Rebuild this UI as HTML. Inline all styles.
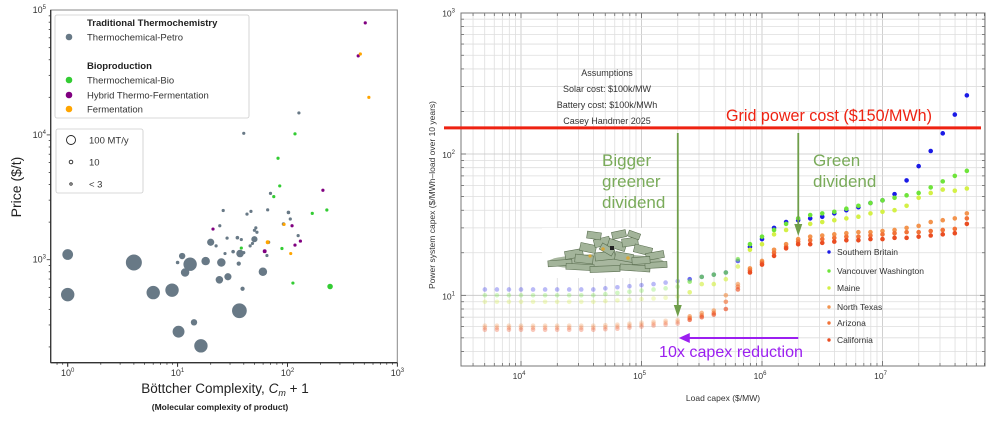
<!DOCTYPE html>
<html><head><meta charset="utf-8"><style>
html,body{margin:0;padding:0;background:#fff;width:1000px;height:421px;overflow:hidden}
svg{display:block;font-family:"Liberation Sans",sans-serif}
</style></head><body>
<svg id="root" width="1000" height="421" viewBox="0 0 1000 421">
<g id="left"></g>
<g id="right"></g>
</svg>
<script>
// ---------- LEFT CHART DATA ----------
const petroX=[1,1,4,6,8.9,10.2,11,10,11.7,13,14.1,16.3,18,20,22.4,24,24.2,26,25,28.7,28.2,27,32,35,36,37,38,40,39,36.5,40,42.8,46.5,45.7,48,50,50,51.5,52.7,59.7,66,67.4,65,70,102,92,106,125,127];
const petroY=[1100,525,950,545,570,265,1070,950,790,920,315,204,975,1380,1290,690,1870,2480,950,730,1490,1120,1160,1500,930,1120,1450,1140,585,390,10300,2320,2440,1290,1350,1460,1720,1800,1660,800,2510,1380,1080,3400,2390,1930,2120,1560,15000];
const petroVol=[45,70,100,70,70,55,16,5,28,70,16,70,28,20,4,22,4,4,28,20,4,4,5,5,7,22,4,4,7,85,3,4,4,4,4,15,4,4,4,28,4,4,4,4,5,5,3,3,3];
const bioX=[82,85,75,117,38,89,168,228,112,244];
const bioY=[6500,3900,3200,10200,1240,1230,2350,2500,650,610];
const bioVol=[3,3,3,3,3,3,3,3,3,12];
const hybX=[510,440,21,110,210,117,131,62];
const hybY=[79000,43000,1760,1870,3600,1310,1410,1170];
const hybVol=[3,3,3,3,3,3,3,6];
const fermX=[460,550,93,66,107];
const fermY=[44500,20000,1920,1380,1120];
const fermVol=[3,3,3,6,4];
const leftXTicks=[0,1,2,3];
const leftYTicks=[3,4,5];

// ---------- RIGHT CHART DATA ----------
const loadCapexExp=[3.7,3.8,3.9,4.0,4.1,4.2,4.3,4.4,4.5,4.6,4.7,4.8,4.9,5.0,5.1,5.2,5.3,5.4,5.5,5.6,5.7,5.8,5.9,6.0,6.1,6.2,6.3,6.4,6.5,6.6,6.7,6.8,6.9,7.0,7.1,7.2,7.3,7.4,7.5,7.6,7.7];
const britain=[11,11,11,11,11,11,11,11,11,11,11.2,11.4,11.6,11.8,12,12.3,12.6,13,13.5,14,14.5,17.5,22,25,30,33,34,35,36,38,40,42,45,47,52,65,82,105,140,190,260];
const vancouver=[10,10,10,10,10,10,10,10,10,10,10.2,10.4,10.6,10.8,11,11.2,11.5,12.5,13.5,14,14.5,18,23,26,29,32,35,37,38,39,41,43,45,47,49,51,53,58,64,70,76];
const maine=[9,9,9,9,9,9,9,9,9,9,9.1,9.2,9.3,9.4,9.5,9.6,9.8,10.5,12,12,13,16,21,23,27,29,30,32,33,34,35,36,38,39,40,43,49,53,56,55,57];
const texas=[6.1,6.1,6.1,6.1,6.1,6.1,6.1,6.1,6.1,6.1,6.15,6.2,6.3,6.4,6.5,6.6,6.7,7.1,7.5,7.8,10,12,15.5,17.5,21,23,25,26,26.5,27,27.5,28,28,28.5,29,30,31,33,34,35,38];
const arizona=[5.9,5.9,5.9,5.9,5.9,5.9,5.9,5.9,5.9,5.9,5.95,6,6.1,6.2,6.3,6.4,6.5,6.9,7.2,7.5,9,11.5,15,17,20,22,24,24.5,25,25.5,26,26,26.5,27,27.5,28,28,28.5,29,29.5,35];
const california=[5.7,5.7,5.7,5.7,5.7,5.7,5.7,5.7,5.7,5.7,5.75,5.8,5.9,6,6.1,6.2,6.3,6.7,7,7.3,8,11,14.5,16.5,19,21.5,23,23,23.5,24,24.5,24.5,25,25,25.5,25.5,26,26.5,27,27.5,32];
const seriesNames=["Southern Britain","Vancouver Washington","Maine","North Texas","Arizona","California"];
const gridCost=[153];
const rightXTicks=[4,5,6,7];
const rightYTicks=[1,2,3];

const NS="http://www.w3.org/2000/svg";
function mk(parent,tag,attrs,text){const e=document.createElementNS(NS,tag);for(const k in attrs)e.setAttribute(k,attrs[k]);if(text!==undefined)e.textContent=text;parent.appendChild(e);return e;}

// ===== LEFT =====
const L=document.getElementById('left');
const lx=v=>67.7+Math.log10(v)*109.9;
const ly=v=>259.7-(Math.log10(v)-3)*124.8;
const LX0=50.7,LX1=397.3,LY0=10,LY1=362.7;
let e;
e=mk(L,'rect',{x:LX0,y:LY0,width:LX1-LX0,height:LY1-LY0,fill:'#fff',stroke:'#888','stroke-width':1});

mk(L,'line',{x1:LX0,y1:LY0,x2:LX0,y2:LY1,stroke:'#333','stroke-width':1.3});
mk(L,'line',{x1:LX0,y1:LY1,x2:LX1,y2:LY1,stroke:'#333','stroke-width':1.3});
for(let d=-1;d<3;d++){for(let m=1;m<10;m++){const v=Math.pow(10,d)*m;const px=lx(v);if(px<LX0||px>LX1)continue;mk(L,'line',{x1:px,y1:LY1,x2:px,y2:LY1+(m===1?4:2),stroke:'#333','stroke-width':0.8});}}
leftXTicks.forEach(t=>{const px=lx(Math.pow(10,t));mk(L,'line',{x1:px,y1:LY1,x2:px,y2:LY1+4,stroke:'#333'});
 const tx=mk(L,'text',{x:px,y:376,'font-size':9,fill:'#333','text-anchor':'middle'});
 tx.textContent='10';mk(tx,'tspan',{'font-size':6,dy:-4},String(t));});
for(let d=2;d<5;d++){for(let m=1;m<10;m++){const v=Math.pow(10,d)*m;const py=ly(v);if(py<LY0||py>LY1)continue;mk(L,'line',{x1:LX0,y1:py,x2:LX0-(m===1?4:2),y2:py,stroke:'#333','stroke-width':0.8});}}
leftYTicks.forEach(t=>{const py=ly(Math.pow(10,t));
 const tx=mk(L,'text',{x:46,y:py+3,'font-size':9,fill:'#333','text-anchor':'end'});
 tx.textContent='10';mk(tx,'tspan',{'font-size':6,dy:-4},String(t));});
e=mk(L,'text',{x:0,y:0,'font-size':14,fill:'#222','text-anchor':'middle',transform:'translate(21,187) rotate(-90)'},'Price ($/t)');

e=mk(L,'text',{x:225,y:393,'font-size':13.5,fill:'#222','text-anchor':'middle'});

e.textContent='Böttcher Complexity, ';mk(e,'tspan',{'font-style':'italic'},'C');mk(e,'tspan',{'font-style':'italic','font-size':9,dy:3},'m');mk(e,'tspan',{dy:-3},' + 1');
e=mk(L,'text',{x:220,y:410,'font-size':8.5,'font-weight':'bold',fill:'#222','text-anchor':'middle'},'(Molecular complexity of product)');

const rad=v=>Math.max(1.6,Math.sqrt(v)*0.8);
function scatter(xs,ys,vs,col,name){xs.forEach((x,i)=>{const c=mk(L,'circle',{cx:lx(x),cy:ly(ys[i]),r:rad(vs[i]),fill:col});});}
scatter(petroX,petroY,petroVol,'#687986','point-petro');
scatter(bioX,bioY,bioVol,'#33cc33','point-bio');
scatter(hybX,hybY,hybVol,'#800080','point-hybrid');
scatter(fermX,fermY,fermVol,'#ffa500','point-fermentation');
const lg=mk(L,'g',{});
mk(lg,'rect',{x:55,y:15,width:194,height:103,fill:'#fff',stroke:'#ccc','stroke-width':0.8,rx:2});
mk(lg,'text',{x:87,y:26,'font-size':9.5,'font-weight':'bold',fill:'#222'},'Traditional Thermochemistry');
mk(lg,'text',{x:87,y:69,'font-size':9.5,'font-weight':'bold',fill:'#222'},'Bioproduction');
[['Thermochemical-Petro','#687986',37],['Thermochemical-Bio','#33cc33',80],['Hybrid Thermo-Fermentation','#800080',95],['Fermentation','#ffa500',109]].forEach(r=>{
 const g=mk(lg,'g',{});
 mk(g,'circle',{cx:69,cy:r[2],r:3.3,fill:r[1]});mk(g,'text',{x:87,y:r[2]+3.5,'font-size':9.5,fill:'#333'},r[0]);});
const lg2=mk(L,'g',{});
mk(lg2,'rect',{x:56,y:129,width:87,height:64,fill:'#fff',stroke:'#ccc','stroke-width':0.8,rx:2});
[['100 MT/y',4.5,140],['10',1.8,162],['< 3',1.2,184]].forEach(r=>{const g=mk(lg2,'g',{});
 mk(g,'circle',{cx:71,cy:r[2],r:r[1],fill:'#fff',stroke:'#222','stroke-width':0.9});mk(g,'text',{x:89,y:r[2]+3.5,'font-size':9.5,fill:'#333'},r[0]);});

// ===== RIGHT =====
const R=document.getElementById('right');
const RX0=461,RX1=985,RY0=13,RY1=366;
const rx=v=>521+(Math.log10(v)-4)*120.5;
const ry=v=>154-(Math.log10(v)-2)*141.3;
e=mk(R,'rect',{x:RX0,y:RY0,width:RX1-RX0,height:RY1-RY0,fill:'#fff'});

for(let d=3;d<8;d++){for(let m=1;m<10;m++){const v=Math.pow(10,d)*m;const px=rx(v);if(px<=RX0||px>=RX1)continue;
 mk(R,'line',{x1:px,y1:RY0,x2:px,y2:RY1,stroke:m===1?'#c4c4c4':'#dedede','stroke-width':0.8});
 mk(R,'line',{x1:px,y1:RY1,x2:px,y2:RY1-(m===1?5:3),stroke:'#555','stroke-width':0.7});
 mk(R,'line',{x1:px,y1:RY0,x2:px,y2:RY0+(m===1?5:3),stroke:'#555','stroke-width':0.7});}}
for(let d=0;d<3;d++){for(let m=1;m<10;m++){const v=Math.pow(10,d)*m;const py=ry(v);if(py<=RY0||py>=RY1)continue;
 mk(R,'line',{x1:RX0,y1:py,x2:RX1,y2:py,stroke:m===1?'#c4c4c4':'#dedede','stroke-width':0.8});
 mk(R,'line',{x1:RX0,y1:py,x2:RX0+(m===1?5:3),y2:py,stroke:'#555','stroke-width':0.7});
 mk(R,'line',{x1:RX1,y1:py,x2:RX1-(m===1?5:3),y2:py,stroke:'#555','stroke-width':0.7});}}
mk(R,'rect',{x:RX0,y:RY0,width:RX1-RX0,height:RY1-RY0,fill:'none',stroke:'#777','stroke-width':1});
rightXTicks.forEach(t=>{const px=rx(Math.pow(10,t));const tx=mk(R,'text',{x:px-2,y:379,'font-size':8.5,fill:'#333','text-anchor':'middle'});
 tx.textContent='10';mk(tx,'tspan',{'font-size':6,dy:-4},String(t));});
rightYTicks.forEach(t=>{const py=ry(Math.pow(10,t));const tx=mk(R,'text',{x:455,y:py+4,'font-size':8.5,fill:'#333','text-anchor':'end'});
 tx.textContent='10';mk(tx,'tspan',{'font-size':6,dy:-4},String(t));});
e=mk(R,'text',{x:723,y:401,'font-size':8.5,fill:'#333','text-anchor':'middle'},'Load capex ($/MW)');

e=mk(R,'text',{x:0,y:0,'font-size':8.5,fill:'#333','text-anchor':'middle',transform:'translate(435,195) rotate(-90)'},'Power system capex ($/MWh–load over 10 years)');

// money pile
const mp=mk(R,'g',{});
mk(mp,'rect',{x:542,y:228,width:130,height:50,fill:'#fff'});
mk(mp,'ellipse',{cx:606,cy:262,rx:58,ry:8,fill:'#a8b79f'});
[[548,260,24,6,-4],[566,264,28,6,3],[590,266,30,6,-2],[620,265,30,6,4],[645,262,22,6,-3],
 [565,250,18,8,-10],[580,244,16,8,12],[594,238,16,8,-14],[608,241,18,8,18],[622,238,16,8,-8],[634,246,18,8,14],[646,252,18,7,-10],
 [575,255,18,8,6],[595,252,20,8,-6],[615,253,18,8,10],[632,257,18,7,-4],[587,232,14,7,8],[612,231,14,7,-12],[600,246,14,7,30],[628,232,12,6,20]].forEach(b=>{
 mk(mp,'rect',{x:b[0],y:b[1],width:b[2],height:b[3],fill:'#a3b49a',stroke:'#5c7052','stroke-width':0.6,transform:`rotate(${b[4]} ${b[0]+b[2]/2} ${b[1]+b[3]/2})`});});
mk(mp,'circle',{cx:603,cy:249,r:1.8,fill:'#d6a63a'});mk(mp,'circle',{cx:628,cy:258,r:1.8,fill:'#d6a63a'});mk(mp,'circle',{cx:590,cy:256,r:1.6,fill:'#d6a63a'});mk(mp,'rect',{x:610,y:246,width:4,height:4,fill:'#222'});
// series
const allSeries=[britain,vancouver,maine,texas,arizona,california];
const cols=['#1a1ae6','#6ee43a','#d4f046','#f3944e','#f27338','#ea4d22'];
allSeries.forEach((s,k)=>{s.forEach((v,i)=>{const x=Math.pow(10,loadCapexExp[i]);const op=i<=16?0.3:(i<=21?0.65:1);
 const c=mk(R,'circle',{cx:rx(x),cy:ry(v),r:2.3,fill:cols[k],'fill-opacity':op});
 
 });});
e=mk(R,'line',{x1:444,y1:ry(gridCost[0]),x2:981,y2:ry(gridCost[0]),stroke:'#ee2211','stroke-width':3});

e=mk(R,'text',{x:726,y:121,'font-size':16.5,fill:'#ee2211',textLength:206,lengthAdjust:'spacingAndGlyphs'},'Grid power cost ($150/MWh)');

const as=mk(R,'g',{'font-size':9,fill:'#333','text-anchor':'middle'});
['Assumptions','Solar cost: $100k/MW','Battery cost: $100k/MWh','Casey Handmer 2025'].forEach((t,i)=>mk(as,'text',{x:607,y:76+i*16},t));
const gc='#6f9e4a';
function arrowV(x,y1,y2,name){const g=mk(R,'g',{});
 mk(g,'line',{x1:x,y1:y1,x2:x,y2:y2-6,stroke:gc,'stroke-width':1.8});mk(g,'polygon',{points:`${x-4},${y2-12} ${x+4},${y2-12} ${x},${y2}`,fill:gc});}
arrowV(rx(2e5),133,317,'bigger-dividend-arrow');
arrowV(rx(2e6),133,236,'green-dividend-arrow');
const pa=mk(R,'g',{});
mk(pa,'line',{x1:rx(2e6),y1:338,x2:rx(2e5)+10,y2:338,stroke:'#9b1ff0','stroke-width':2});
mk(pa,'polygon',{points:`${rx(2e5)+1},338 ${rx(2e5)+12},333 ${rx(2e5)+12},343`,fill:'#9b1ff0'});
e=mk(R,'text',{x:659,y:357,'font-size':16,fill:'#9b1ff0',textLength:144,lengthAdjust:'spacingAndGlyphs'},'10x capex reduction');

const bg=mk(R,'g',{'font-size':17,fill:'#7aab5a'});
['Bigger','greener','dividend'].forEach((t,i)=>mk(bg,'text',{x:602,y:166+i*21},t));
const gd=mk(R,'g',{'font-size':17,fill:'#7aab5a'});
['Green','dividend'].forEach((t,i)=>mk(gd,'text',{x:813,y:166+i*21},t));
const rl=mk(R,'g',{});
[252,271,288,307,323,340].forEach((y,k)=>{const g=mk(rl,'g',{});
 mk(g,'circle',{cx:829,cy:y,r:1.7,fill:cols[k]});mk(g,'text',{x:837,y:y+3,'font-size':8.5,fill:'#333'},seriesNames[k]);});
</script>
</body></html>
